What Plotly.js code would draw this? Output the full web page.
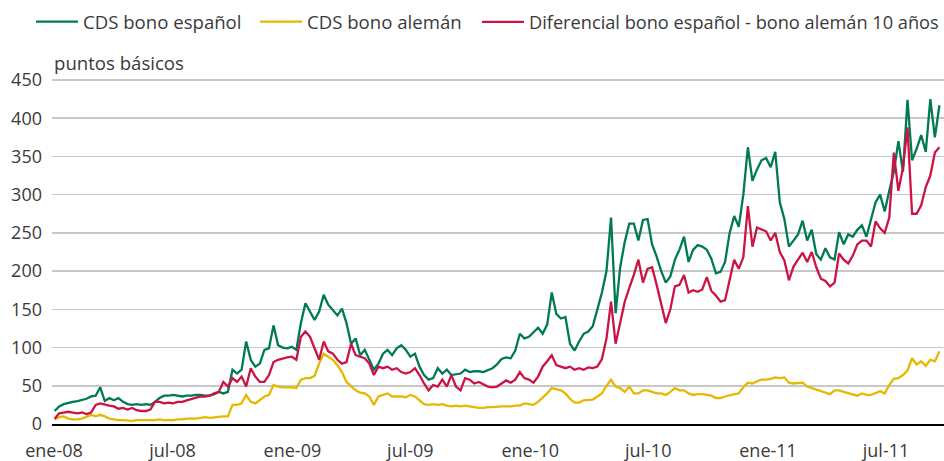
<!DOCTYPE html>
<html>
<head>
<meta charset="utf-8">
<script src="https://cdn.plot.ly/plotly-3.0.1.min.js"></script>
<style>
  html, body { margin: 0; padding: 0; background: #fff; }
  #chart { width: 944px; height: 461px; }
</style>
</head>
<body>
<div id="chart"></div>
<script>
// Weekly observations starting on this date (one value per week)
const startDate = '2008-01-02';
const stepDays = 7;

const seriesNames = ['CDS bono español', 'CDS bono alemán', 'Diferencial bono español - bono alemán 10 años'];

const cdsEspanol = [
  17,23,26,28,29,30,31,33,36,37,
  48,30,34,31,34,29,26,25,26,25,
  26,25,29,34,37,37,38,37,36,37,
  37,38,38,37,37,39,42,40,42,71,
  66,71,108,84,75,79,97,99,129,103,
  100,99,101,97,132,158,147,136,147,169,
  156,149,142,151,132,105,112,90,97,84,
  71,79,92,97,90,99,103,97,88,92,
  75,64,58,60,73,66,71,64,65,66,
  71,68,
  69,69,68,70,73,78,85,87,86,96,
  118,112,114,120,126,118,130,172,144,138,
  140,105,96,108,118,121,128,150,172,200,
  270,145,205,238,262,262,240,267,268,235,
  219,200,185,193,215,228,245,212,228,234,
  232,228,216,197,199,212,250,272,258,300,
  362,318,333,345,348,336,356,290,268,232,
  240,248,266,240,254,222,215,230,218,215,
  251,235,248,245,254,260,245,266,290,300,
  278,305,330,370,330,424,345,360,378,356,
  425,375,417
];

const cdsAleman = [
  6,9,10,7,6,6,7,10,12,10,
  12,10,7,6,5,5,4,4,5,5,
  5,5,5,6,5,5,5,6,6,7,
  7,7,8,9,8,9,10,10,10,25,
  25,27,38,29,27,31,36,38,51,49,
  48,48,48,47,58,60,60,63,79,92,
  88,84,77,68,55,49,44,41,40,36,
  25,36,38,40,36,36,36,35,38,36,
  31,26,25,26,25,26,24,23,24,23,
  24,23,
  22,21,21,22,22,23,23,23,23,24,
  24,27,26,25,29,34,40,47,45,44,
  40,33,28,28,31,32,32,36,40,50,
  58,49,47,42,49,40,40,44,44,42,
  40,40,38,42,47,44,44,40,38,39,
  39,38,37,34,34,36,38,39,40,48,
  54,53,56,58,58,59,61,60,61,54,
  53,54,54,49,47,45,44,42,39,44,
  44,42,40,38,37,40,38,38,40,43,
  40,51,59,60,64,70,86,78,82,76,
  84,82,95
];

const diferencial = [
  7,14,15,16,15,14,15,13,15,25,
  27,25,24,23,20,21,19,21,18,17,
  17,19,29,29,27,28,27,29,29,31,
  33,34,36,36,37,40,42,55,49,60,
  55,62,49,73,62,55,55,64,81,84,
  86,87,88,84,114,121,114,99,84,108,
  95,92,84,79,81,105,90,88,86,79,
  64,75,73,75,71,73,68,66,68,73,
  64,53,44,51,49,58,49,64,49,44,
  60,58,
  53,55,52,49,48,49,53,57,54,58,
  68,60,58,54,62,75,82,90,77,75,
  73,75,71,73,71,74,73,75,85,112,
  160,105,135,160,178,195,215,185,203,205,
  182,158,132,150,180,182,195,172,175,173,
  176,192,174,168,160,162,190,215,203,218,
  285,232,257,255,252,240,250,225,214,188,
  206,215,224,212,225,205,190,187,180,185,
  223,215,210,220,235,240,240,232,265,256,
  250,270,355,305,335,388,275,275,286,310,
  325,355,362
];

const tickDates = ['2008-01-01','2008-07-01','2009-01-01','2009-07-01','2010-01-01','2010-07-01','2011-01-01','2011-07-01'];
const tickLabels = ['ene-08','jul-08','ene-09','jul-09','ene-10','jul-10','ene-11','jul-11'];
const yTicks = [0,50,100,150,200,250,300,350,400,450];

function weeklyDates(n) {
  const out = [];
  const base = new Date(startDate + 'T00:00:00Z');
  for (let i = 0; i < n; i++) {
    const d = new Date(base.getTime() + i * stepDays * 86400000);
    out.push(d.toISOString().slice(0, 10));
  }
  return out;
}
const dates = weeklyDates(cdsEspanol.length);

const colors = ['#007a55', '#e6b800', '#cc1444'];
const textColor = '#3a3a3a';

const traces = [
  { x: dates, y: cdsEspanol, name: seriesNames[0], type: 'scatter', mode: 'lines',
    legend: 'legend', line: { color: colors[0], width: 2.3 } },
  { x: dates, y: cdsAleman, name: seriesNames[1], type: 'scatter', mode: 'lines',
    legend: 'legend2', line: { color: colors[1], width: 2.3 } },
  { x: dates, y: diferencial, name: seriesNames[2], type: 'scatter', mode: 'lines',
    legend: 'legend3', line: { color: colors[2], width: 2.3 } }
];

function legendAt(px, size) {
  return {
    orientation: 'h', xref: 'container', yref: 'container',
    x: px / 944, y: 1 - 22 / 461, xanchor: 'left', yanchor: 'middle',
    font: { size: size, color: textColor }, itemwidth: 42,
    bgcolor: 'rgba(0,0,0,0)', borderwidth: 0
  };
}

const layout = {
  width: 944, height: 461,
  margin: { l: 52, r: 0, t: 78, b: 37, pad: 0 },
  paper_bgcolor: '#ffffff', plot_bgcolor: '#ffffff',
  font: { family: 'Open Sans, sans-serif', size: 18, color: textColor },
  showlegend: true,
  legend: legendAt(31, 18.6),
  legend2: legendAt(255, 18.6),
  legend3: legendAt(477, 18.2),
  xaxis: {
    type: 'date', range: ['2007-12-29', '2011-09-28'],
    tickvals: tickDates, ticktext: tickLabels,
    showgrid: false, zeroline: false,
    showline: true, linecolor: '#000000', linewidth: 1.5,
    ticks: '', ticklabelstandoff: 10, automargin: false,
    tickfont: { size: 18, color: textColor }, fixedrange: true
  },
  yaxis: {
    range: [0, 452.6], tickvals: yTicks,
    showgrid: true, gridcolor: '#c8c8c8', gridwidth: 1.5,
    zeroline: false, showline: false, ticks: '',
    ticklabelstandoff: 9, automargin: false,
    tickfont: { size: 18, color: textColor }, fixedrange: true
  },
  annotations: [{
    text: 'puntos básicos', xref: 'paper', yref: 'paper',
    x: 0, y: 1.046, xanchor: 'left', yanchor: 'middle', showarrow: false,
    font: { size: 18.6, color: textColor }
  }]
};

Plotly.newPlot('chart', traces, layout, { staticPlot: true, displayModeBar: false });
</script>
</body>
</html>
